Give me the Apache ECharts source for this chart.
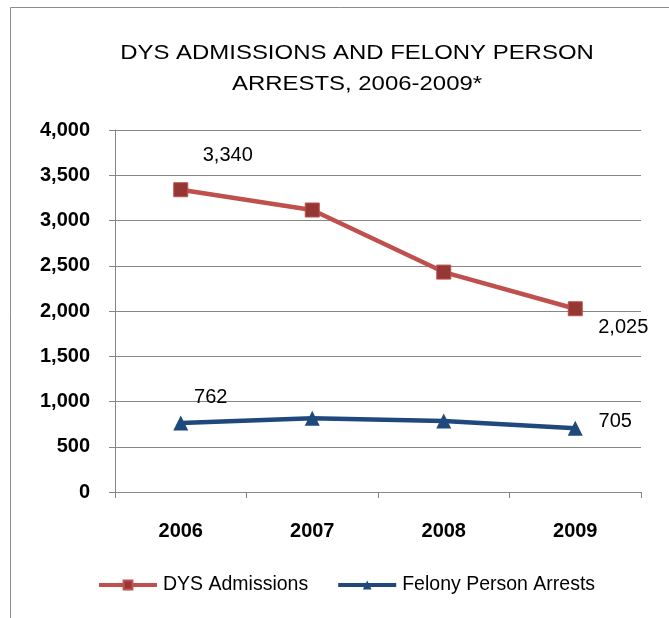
<!DOCTYPE html>
<html><head><meta charset="utf-8">
<script src="https://cdn.jsdelivr.net/npm/echarts@6/dist/echarts.min.js"></script>
<style>html,body{margin:0;padding:0;background:#fff}#c{width:669px;height:618px}</style>
</head><body><div id="c"></div>
<script>
const categories = ['2006','2007','2008','2009'];
const dysAdmissions = [3340, 3116, 2430, 2025];
const felonyArrests = [762, 815, 785, 705];
const seriesNames = ['DYS Admissions','Felony Person Arrests'];
const titleLines = ['DYS ADMISSIONS AND FELONY PERSON','ARRESTS, 2006-2009*'];

const fmt = v => v.toLocaleString('en-US');
const FONT = 'Liberation Sans, Arial, sans-serif';
const chart = echarts.init(document.getElementById('c'));
const lbl = (dx, dy) => ({show:true,position:'inside',offset:[dx,dy],align:'center',verticalAlign:'middle',
  formatter:p=>fmt(p.value),fontFamily:FONT,fontSize:20,color:'#000'});
chart.setOption({
  animation:false,
  graphic:[
    {type:'rect',shape:{x:10.5,y:7.5,width:700,height:700},style:{fill:'none',stroke:'#8c8c8c',lineWidth:1}},
    {type:'text',x:357,y:53,scaleX:1.14,style:{text:titleLines[0],font:'21px '+FONT,fill:'#000',align:'center',verticalAlign:'middle'}},
    {type:'text',x:357,y:84,scaleX:1.14,style:{text:titleLines[1],font:'21px '+FONT,fill:'#000',align:'center',verticalAlign:'middle'}}
  ],
  grid:{left:115,right:28,top:130,bottom:126},
  legend:{top:570,left:92,itemGap:28,itemWidth:58,itemHeight:11,
    lineStyle:{width:4},
    textStyle:{fontFamily:FONT,fontSize:19.5,color:'#000',padding:[0,0,0,1]}},
  xAxis:{type:'category',data:categories,boundaryGap:true,
    axisLine:{lineStyle:{color:'#868686'}},
    axisTick:{show:true,length:6,lineStyle:{color:'#868686'}},
    axisLabel:{margin:29,fontFamily:FONT,fontWeight:'bold',fontSize:20,color:'#000'}},
  yAxis:{type:'value',min:0,max:4000,interval:500,
    axisLine:{show:true,lineStyle:{color:'#868686'}},
    axisTick:{show:true,length:6,lineStyle:{color:'#868686'}},
    splitLine:{lineStyle:{color:'#868686'}},
    axisLabel:{margin:25,formatter:v=>fmt(v),fontFamily:FONT,fontWeight:'bold',fontSize:20,color:'#000'}},
  series:[
    {name:seriesNames[0],type:'line',data:dysAdmissions.map((v,i)=>{
        const d={value:v};
        if(i===0) d.label=lbl(47,-34);
        if(i===3) d.label=lbl(48,19);
        return d;}),
      lineStyle:{color:'#C0504D',width:4.5},
      itemStyle:{color:'#953735',borderColor:'#C0504D',borderWidth:1},
      symbol:'rect',symbolSize:14,label:{show:false}},
    {name:seriesNames[1],type:'line',data:felonyArrests.map((v,i)=>{
        const d={value:v};
        if(i===0) d.label=lbl(30,-26);
        if(i===3) d.label=lbl(40,-7);
        return d;}),
      lineStyle:{color:'#1F497D',width:4.5},
      itemStyle:{color:'#1F497D'},
      symbol:'triangle',symbolSize:15,label:{show:false}}
  ]
});
</script></body></html>
